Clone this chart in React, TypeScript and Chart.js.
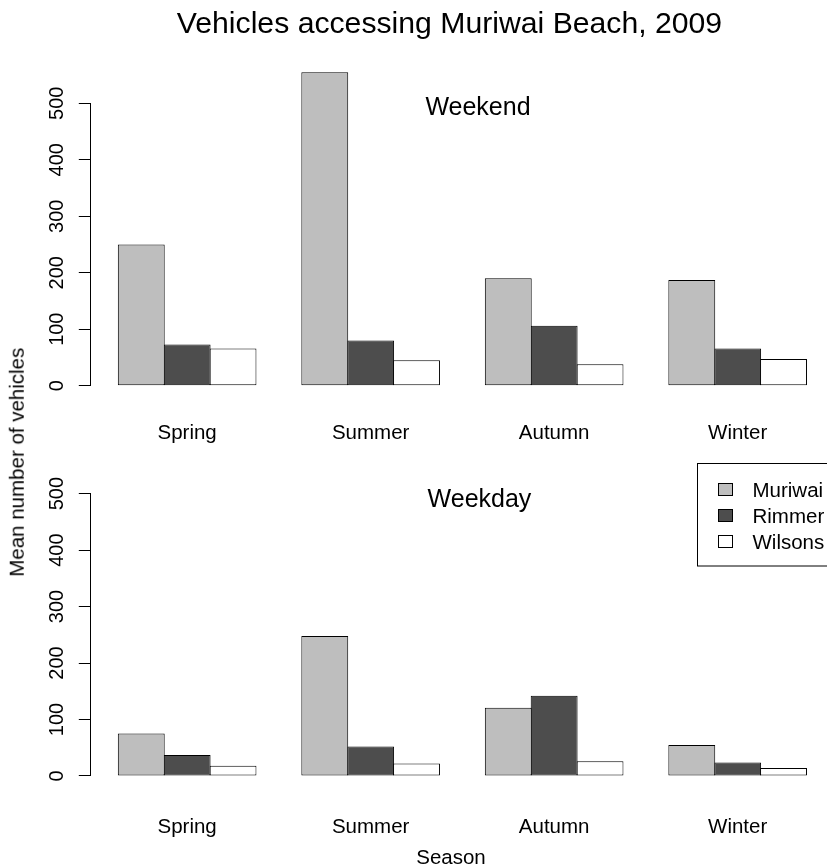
import React, { useEffect, useRef } from "react";
import { Chart, registerables } from "chart.js";

Chart.register(...registerables);

// ---- data ----
const seasons = ["Spring", "Summer", "Autumn", "Winter"];
const sites = ["Muriwai", "Rimmer", "Wilsons"];
const siteColors = ["#bebebe", "#4d4d4d", "#ffffff"];

const weekendMuriwai = [250, 555, 190, 187];
const weekendRimmer = [73, 80, 106, 66];
const weekendWilsons = [66, 45, 38, 47];

const weekdayMuriwai = [75, 248, 121, 55];
const weekdayRimmer = [37, 52, 142, 24];
const weekdayWilsons = [18, 22, 26, 14];

const yTicks = [0, 100, 200, 300, 400, 500];

const FONT = "'Liberation Sans', Arial, Helvetica, sans-serif";

// R barplot convention: each group = 1 unit gap + 3 unit-wide bars, xlim extended by 4%
const groupCenters = seasons.map((_, i) => 2.5 + 4 * i);
const xLo = 1, xHi = 4 * seasons.length;
const xMin = xLo - 0.04 * (xHi - xLo);
const xMax = xHi + 0.04 * (xHi - xLo);

const allValues = [
  ...weekendMuriwai, ...weekendRimmer, ...weekendWilsons,
  ...weekdayMuriwai, ...weekdayRimmer, ...weekdayWilsons,
];
const yTop = Math.max(...allValues);
const yMin = -0.04 * yTop;
const yMax = 1.04 * yTop;

const CANVAS_W = 834;

const axisLinePlugin = {
  id: "rAxisLine",
  afterDraw(chart: any) {
    const ys = chart.scales.y;
    const ctx = chart.ctx;
    const x = Math.round(chart.chartArea.left) - 0.5;
    const y0 = Math.round(ys.getPixelForValue(yTicks[0]) - 0.5) + 0.5;
    const y1 = Math.round(ys.getPixelForValue(yTicks[yTicks.length - 1]) - 0.5) + 0.5;
    ctx.save();
    ctx.strokeStyle = "#000";
    ctx.lineWidth = 1;
    ctx.beginPath();
    ctx.moveTo(x, y0);
    ctx.lineTo(x, y1);
    ctx.stroke();
    ctx.restore();
  },
};

const legendPlugin = {
  id: "rLegend",
  afterDraw(chart: any) {
    const { ctx, chartArea } = chart;
    const left = Math.round(chartArea.right - 137.3) + 0.5;
    const top = Math.round(chartArea.top + 13.3) + 0.5;
    const h = 102.5;
    ctx.save();
    ctx.strokeStyle = "#000";
    ctx.lineWidth = 1;
    ctx.strokeRect(left, top, 300, h);
    chart.data.datasets.forEach((ds: any, i: number) => {
      const cy = top + 25 + i * 26.3;
      ctx.fillStyle = ds.backgroundColor;
      const sx = Math.round(left + 20) + 0.5;
      const sy = Math.round(cy - 6) + 0.5;
      ctx.fillRect(sx, sy, 14, 12);
      ctx.strokeStyle = "#000";
      ctx.strokeRect(sx, sy, 14, 12);
      ctx.fillStyle = "#000";
      ctx.font = `20.5px ${FONT}`;
      ctx.textAlign = "left";
      ctx.textBaseline = "alphabetic";
      ctx.fillText(ds.label, left + 55, cy + 8);
    });
    ctx.restore();
  },
};

function Panel(props: {
  values: number[][];
  top: number;
  height: number;
  padTop: number;
  axisH: number;
  labelPad: number;
  legend: boolean;
}) {
  const ref = useRef<HTMLCanvasElement>(null);
  useEffect(() => {
    const canvas = ref.current!;
    const chart = new Chart(canvas, {
      type: "bar",
      data: {
        datasets: sites.map((s, k) => ({
          label: s,
          data: groupCenters.map((x, i) => ({ x, y: props.values[k][i] })),
          backgroundColor: siteColors[k],
          borderColor: "#000",
          borderWidth: 1,
          borderSkipped: false,
          inflateAmount: 0,
          categoryPercentage: 0.75,
          barPercentage: 1.022,
        })),
      },
      options: {
        animation: false,
        responsive: false,
        devicePixelRatio: 1,
        events: [],
        layout: { padding: { top: props.padTop, left: 0, right: 0, bottom: 0 } },
        plugins: { legend: { display: false }, tooltip: { enabled: false }, title: { display: false } },
        scales: {
          x: {
            type: "linear",
            min: xMin,
            max: xMax,
            offset: false,
            afterBuildTicks: (s: any) => {
              s.ticks = groupCenters.map((v) => ({ value: v }));
            },
            afterFit: (s: any) => {
              s.height = props.axisH;
            },
            ticks: {
              callback: (_v: any, i: number) => seasons[i],
              font: { family: FONT, size: 20.5 },
              color: "#000",
              padding: props.labelPad,
              autoSkip: false,
              maxRotation: 0,
              minRotation: 0,
            },
            grid: { display: false, drawTicks: false },
            border: { display: false },
          },
          y: {
            type: "linear",
            min: yMin,
            max: yMax,
            afterBuildTicks: (s: any) => {
              s.ticks = yTicks.map((v) => ({ value: v }));
            },
            afterFit: (s: any) => {
              s.width = 90.8;
            },
            ticks: {
              font: { family: FONT, size: 20 },
              color: "#000",
              padding: 5,
              minRotation: 90,
              maxRotation: 90,
              crossAlign: "center",
              autoSkip: false,
            },
            grid: { drawOnChartArea: false, drawTicks: true, tickLength: 12, color: "#000", lineWidth: 1 },
            border: { display: false },
          },
        },
      } as any,
      plugins: props.legend ? [axisLinePlugin, legendPlugin] : [axisLinePlugin],
    } as any);
    return () => chart.destroy();
  }, []);
  return (
    <canvas
      ref={ref}
      width={CANVAS_W}
      height={props.height}
      style={{ position: "absolute", left: 0, top: props.top, width: CANVAS_W, height: props.height }}
    />
  );
}

function Txt(props: { text: string; cx: number; baseline: number; fs: number; rotate?: boolean }) {
  const W = 700;
  const { text, cx, baseline, fs, rotate } = props;
  const base: React.CSSProperties = {
    position: "absolute",
    width: W,
    height: fs,
    lineHeight: `${fs}px`,
    fontSize: fs,
    fontFamily: FONT,
    color: "#000",
    textAlign: "center",
    whiteSpace: "nowrap",
  };
  if (rotate) {
    // cx = vertical centre (y), baseline = x of baseline
    const centerX = baseline - 0.3465 * fs;
    return (
      <div style={{ ...base, left: centerX - W / 2, top: cx - fs / 2, transform: "rotate(-90deg)" }}>{text}</div>
    );
  }
  return <div style={{ ...base, left: cx - W / 2, top: baseline - 0.8465 * fs }}>{text}</div>;
}

export default function App() {
  return (
    <div
      style={{
        position: "absolute",
        left: 0,
        top: 0,
        width: 827,
        height: 867,
        overflow: "hidden",
        background: "#fff",
      }}
    >
      <Panel
        values={[weekendMuriwai, weekendRimmer, weekendWilsons]}
        top={0}
        height={470}
        padTop={59.7}
        axisH={71.8}
        labelPad={23}
        legend={false}
      />
      <Panel
        values={[weekdayMuriwai, weekdayRimmer, weekdayWilsons]}
        top={420}
        height={447}
        padTop={30}
        axisH={78.5}
        labelPad={27}
        legend={true}
      />
      <Txt text="Vehicles accessing Muriwai Beach, 2009" cx={449.5} baseline={34} fs={30.2} />
      <Txt text="Weekend" cx={478} baseline={115.3} fs={25} />
      <Txt text="Weekday" cx={479.5} baseline={507} fs={25} />
      <Txt text="Season" cx={451} baseline={864} fs={20.5} />
      <Txt text="Mean number of vehicles" cx={462.5} baseline={24.5} fs={20.5} rotate />
    </div>
  );
}
